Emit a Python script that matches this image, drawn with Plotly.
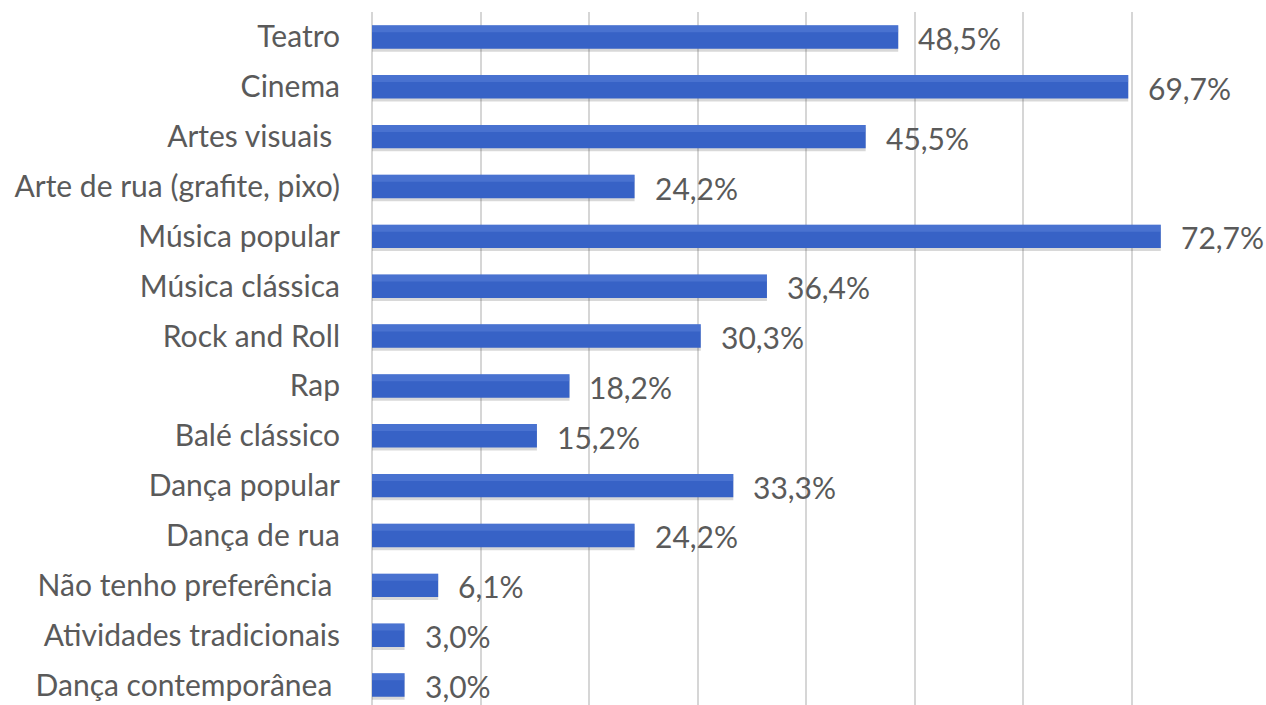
import plotly.graph_objects as go

# Share of respondents by preferred cultural activity
categories = [
    "Teatro",
    "Cinema",
    "Artes visuais ",
    "Arte de rua (grafite, pixo)",
    "Música popular",
    "Música clássica",
    "Rock and Roll",
    "Rap",
    "Balé clássico",
    "Dança popular",
    "Dança de rua",
    "Não tenho preferência ",
    "Atividades tradicionais",
    "Dança contemporânea ",
]
percentages = [48.5, 69.7, 45.5, 24.2, 72.7, 36.4, 30.3, 18.2, 15.2, 33.3, 24.2, 6.1, 3.0, 3.0]
x_ticks = [0, 10, 20, 30, 40, 50, 60, 70, 80]

labels = [f"{v:.1f}".replace(".", ",") + "%" for v in percentages]

FONT = "Lato, 'Open Sans', sans-serif"
TEXT_GREY = "#5a5a5a"
BAR_BLUE = "#3762c6"
BAR_W = 0.47

fig = go.Figure()

# soft drop shadow under each bar
fig.add_trace(go.Bar(
    y=categories, x=percentages, orientation="h",
    width=BAR_W, offset=-BAR_W / 2 + 0.06,
    marker=dict(color="rgba(60,60,60,0.2)", line=dict(width=0)),
    hoverinfo="skip", showlegend=False,
))
# main bars
fig.add_trace(go.Bar(
    y=categories, x=percentages, orientation="h",
    width=BAR_W, offset=-BAR_W / 2,
    marker=dict(color=BAR_BLUE, line=dict(width=0)),
    showlegend=False,
))
# lighter upper edge for a slight gradient look
fig.add_trace(go.Bar(
    y=categories, x=percentages, orientation="h",
    width=BAR_W * 0.3, offset=-BAR_W / 2,
    marker=dict(color="rgba(110,145,225,0.35)", line=dict(width=0)),
    hoverinfo="skip", showlegend=False,
))

for cat, v, lab in zip(categories, percentages, labels):
    fig.add_annotation(
        x=v, y=cat, text=lab, showarrow=False,
        xanchor="left", yanchor="middle", xshift=18, yshift=-1,
        font=dict(family=FONT, size=30, color=TEXT_GREY),
    )

fig.update_layout(
    width=1266, height=705,
    margin=dict(l=372, r=26, t=12, b=0),
    paper_bgcolor="white", plot_bgcolor="white",
    barmode="overlay",
    showlegend=False,
)
fig.update_xaxes(
    range=[0, 80], tickvals=x_ticks, showticklabels=False,
    showgrid=True, gridcolor="#d6d6d6", gridwidth=2,
    zeroline=True, zerolinecolor="#d6d6d6", zerolinewidth=2,
    showline=False,
)
fig.update_yaxes(
    categoryorder="array", categoryarray=categories,
    range=[13.4, -0.5],
    showgrid=False, showline=False, ticks="",
    ticklabelstandoff=31,
    tickfont=dict(family=FONT, size=30, color=TEXT_GREY),
)

fig.write_html("out.html")
